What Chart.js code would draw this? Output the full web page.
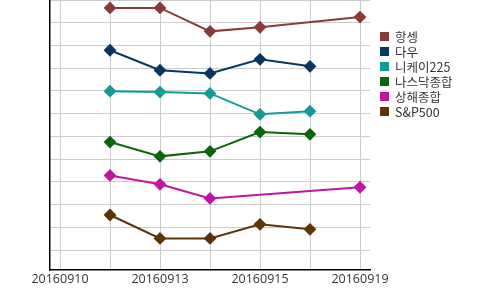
<!DOCTYPE html>
<html>
<head>
<meta charset="utf-8">
<script src="https://cdn.jsdelivr.net/npm/chart.js@4"></script>
<style>
  html, body { margin: 0; padding: 0; background: #fff; }
  #wrap { position: relative; width: 500px; height: 290px; }
  #legend { position: absolute; left: 380px; top: 29px; font: 12.5px "Noto Sans CJK KR", "Open Sans", sans-serif; color: #333; }
  .lg-item { display: flex; align-items: center; height: 15px; }
  .lg-box { width: 9px; height: 9px; margin-right: 6px; }
</style>
</head>
<body>
<div id="wrap">
  <canvas id="chart" width="500" height="290"></canvas>
  <div id="legend"></div>
</div>
<script>
// ---- data (arbitrary index units) ----
const dates = ['20160910', '20160912', '20160913', '20160914', '20160915', '20160916', '20160919'];
const seriesNames = ['항셍', '다우', '니케이225', '나스닥종합', '상해종합', 'S&P500'];
const seriesColors = ['#8b3a3a', '#073763', '#139a9a', '#0b660b', '#c0169f', '#5e3407'];

const hangSeng = [null, 11.65, 11.65, 10.62, 10.80, null, 11.25];
const dow      = [null, 9.79, 8.91, 8.77, 9.39, 9.08, null];
const nikkei   = [null, 7.99, 7.95, 7.89, 6.97, 7.11, null];
const nasdaq   = [null, 5.75, 5.12, 5.34, 6.19, 6.09, null];
const shanghai = [null, 4.28, 3.89, 3.27, null, null, 3.76];
const sp500    = [null, 2.54, 1.51, 1.51, 2.13, 1.91, null];

const seriesValues = [hangSeng, dow, nikkei, nasdaq, shanghai, sp500];

// build datasets on a linear x axis so edges can be padded by a fraction of a step
const datasets = seriesNames.map((name, i) => ({
  label: name,
  data: seriesValues[i].map((v, idx) => ({ x: idx, y: v })),
  borderColor: seriesColors[i],
  backgroundColor: seriesColors[i],
  borderWidth: 2,
  pointStyle: 'rectRot',
  pointRadius: 5,
  pointHoverRadius: 5,
  spanGaps: true,
  tension: 0,
}));

const tickFont = { family: '"Open Sans", "Noto Sans CJK KR", sans-serif', size: 12.5 };

new Chart(document.getElementById('chart'), {
  type: 'line',
  data: { datasets },
  options: {
    responsive: false,
    animation: false,
    layout: { autoPadding: false, padding: { left: 0, right: 130, top: 0, bottom: 0 } },
    plugins: { legend: { display: false }, tooltip: { enabled: false } },
    scales: {
      x: {
        type: 'linear',
        min: -0.2,
        max: dates.length - 0.8,
        afterFit: (s) => { s.height = 20; },
        border: { color: '#000', width: 1.5 },
        grid: { color: '#cccccc', drawTicks: false },
        ticks: {
          stepSize: 1,
          includeBounds: false,
          autoSkip: false,
          maxRotation: 0,
          padding: 2,
          color: '#333',
          font: tickFont,
          callback: (v) => (Number.isInteger(v) && v % 2 === 0 ? dates[v] : ''),
        },
      },
      y: {
        min: 0.12,
        max: 12,
        afterFit: (s) => { s.width = 50; },
        border: { color: '#000', width: 1.5 },
        grid: { color: '#cccccc', drawTicks: false },
        ticks: { display: false, stepSize: 1, includeBounds: false },
      },
    },
  },
});

// simple html legend
document.getElementById('legend').innerHTML = seriesNames.map((n, i) => `
  <div class="lg-item"><span class="lg-box" style="background:${seriesColors[i]}"></span>${n.replace('&', '&amp;')}</div>
`).join('');
</script>
</body>
</html>
